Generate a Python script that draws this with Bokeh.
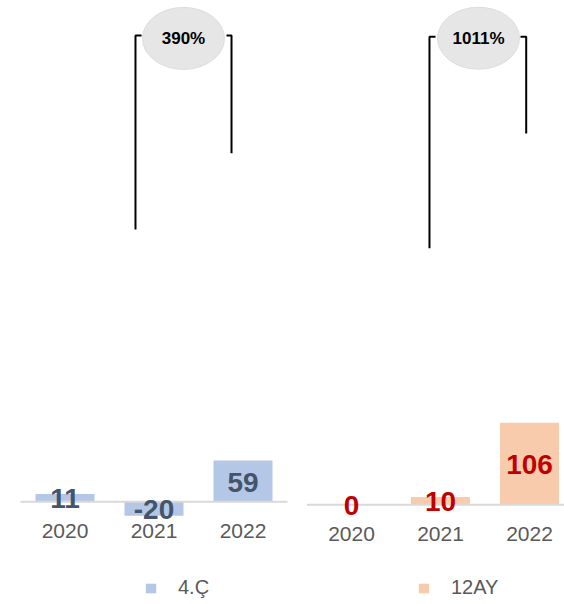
from bokeh.plotting import figure
from bokeh.layouts import row
from bokeh.models import Range1d, Legend, LegendItem
from bokeh.core.properties import value
from bokeh.embed import file_html
from bokeh.resources import INLINE

# --- data -------------------------------------------------------------
years = [2020, 2021, 2022]
year_labels = ["2020", "2021", "2022"]

q4_values = [11, -20, 59]          # 4th quarter
q4_labels = ["11", "-20", "59"]
q4_growth = "390%"

ltm_values = [0, 10, 106]          # last twelve months
ltm_labels = ["0", "10", "106"]
ltm_growth = "1011%"

series_names = ["4.Ç", "12AY"]

# --- styling ----------------------------------------------------------
FONT = "Liberation Sans"
H = 604
BAR_W = 0.663


def panel(width, x_start, ppu, zero_px, vals, labels, name, bar_color,
          label_color, growth, bracket, bubble, legend_loc):
    """One bar panel with its growth bracket and legend entry.

    ppu      -- screen pixels per value unit
    zero_px  -- screen row (from top) of the zero line
    bracket  -- (x_left, x_left_tick, x_right_tick, x_right, top, bottom_left, bottom_right)
    bubble   -- (x, y) centre of the growth bubble
    """
    x_end = x_start + width / 89.0
    p = figure(width=width, height=H, output_backend="svg", toolbar_location=None,
               x_range=Range1d(x_start, x_end),
               y_range=Range1d(-(H - zero_px) / ppu, zero_px / ppu),
               min_border=0, outline_line_color=None)
    p.axis.visible = False
    p.grid.visible = False

    bars = p.vbar(x=years, top=vals, bottom=0, width=BAR_W,
                  fill_color=bar_color, line_color=None)
    p.segment(x0=[2019.5], y0=[0], x1=[2022.5], y1=[0],
              line_color="#d9d9d9", line_width=2)

    p.text(x=years, y=[v / 2 for v in vals], text=labels, y_offset=1,
           text_align="center", text_baseline="middle",
           text_font=value(FONT), text_font_style="bold",
           text_font_size="28px", text_color=label_color)

    p.text(x=years, y=[0] * len(years), text=year_labels, y_offset=29,
           text_align="center", text_baseline="middle",
           text_font=value(FONT), text_font_size="21px", text_color="#595959")

    xl, xlt, xrt, xr, top, bl, br = bracket
    p.line(x=[xlt, xl, xl], y=[top, top, bl], line_color="black", line_width=2)
    p.line(x=[xrt, xr, xr], y=[top, top, br], line_color="black", line_width=2)

    bx, by = bubble
    p.ellipse(x=[bx], y=[by], width=82, height=62,
              width_units="screen", height_units="screen",
              fill_color="#e6e6e6", line_color="#dcdcdc", line_width=1)
    p.text(x=[bx], y=[by], text=[growth], text_align="center",
           text_baseline="middle", text_font=value(FONT),
           text_font_style="bold", text_font_size="17px", text_color="black")

    legend = Legend(items=[LegendItem(label=name, renderers=[bars])],
                    location=legend_loc, orientation="horizontal",
                    glyph_width=13, glyph_height=12, label_standoff=21,
                    label_text_font=FONT, label_text_font_size="20px",
                    label_text_color="#595959", border_line_color=None,
                    background_fill_alpha=0, margin=0, padding=0)
    p.add_layout(legend)
    return p


left = panel(297, 2020 - 64.5 / 89.0, 0.70, 501.3, q4_values, q4_labels,
             series_names[0], "#b4c7e7", "#44546a", q4_growth,
             (2020.792, 2020.860, 2021.815, 2021.871, 666, 389, 498),
             (2021.331, 662), (144, 5))

right = panel(267, 2020 - (351 - 297) / 89.0, 0.775, 504.3, ltm_values, ltm_labels,
              series_names[1], "#f8cbad", "#c00000", ltm_growth,
              (2020.876, 2020.944, 2021.899, 2021.963, 604, 331, 479),
              (2021.427, 602), (120, 5))

layout = row(left, right)
open("out.html", "w").write(file_html(layout, INLINE))
